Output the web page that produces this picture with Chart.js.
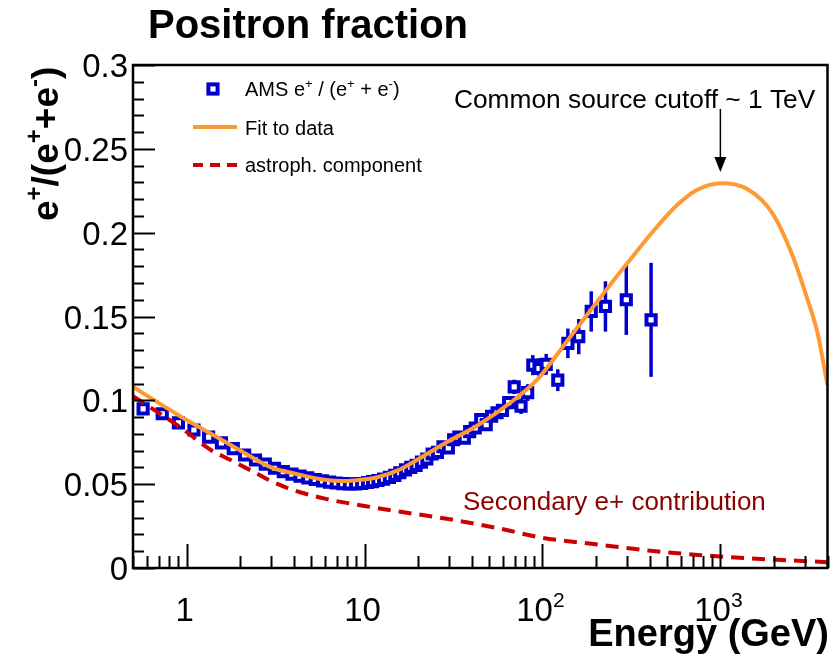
<!DOCTYPE html>
<html>
<head>
<meta charset="utf-8">
<script src="https://cdn.jsdelivr.net/npm/chart.js@4.4.0/dist/chart.umd.min.js"></script>
<style>
  html, body { margin: 0; padding: 0; background: #ffffff; }
  #wrap { width: 838px; height: 658px; }
</style>
</head>
<body>
<div id="wrap"><canvas id="chart" width="838" height="658"></canvas></div>
<script>
// AMS positron fraction points (GeV, e+/(e+ + e-), error)
const energy = [0.57, 0.73, 0.90, 1.10, 1.33, 1.57, 1.83, 2.12, 2.44, 2.77,
    3.12, 3.50, 3.91, 4.34, 4.80, 5.29, 5.81, 6.36, 6.94, 7.56,
    8.22, 8.91, 9.64, 10.4, 11.1, 11.9, 12.8, 13.8, 14.8, 15.8,
    17.0, 18.2, 19.5, 20.9, 22.4, 24.0, 25.7, 27.6, 29.6, 31.7,
    33.9, 36.4, 39.0, 41.9, 45.0, 48.3, 51.8, 55.6, 59.6, 64.6,
    69.4, 75.8, 82.6, 88.3, 95.7, 105, 122, 139, 160, 188,
    226, 296, 408];
const fraction = [0.0949, 0.0920, 0.0865, 0.0823, 0.0780, 0.0746, 0.0712, 0.0674, 0.0644, 0.0620,
    0.0595, 0.0575, 0.0560, 0.0548, 0.0538, 0.0528, 0.0520, 0.0512, 0.0507, 0.0503,
    0.0502, 0.0502, 0.0504, 0.0510, 0.0515, 0.0522, 0.0530, 0.0540, 0.0552, 0.0568,
    0.0585, 0.0600, 0.0612, 0.0632, 0.0650, 0.0680, 0.0690, 0.0723, 0.0717, 0.0765,
    0.0780, 0.0775, 0.0813, 0.0835, 0.0885, 0.0855, 0.0905, 0.0926, 0.0940, 0.0986,
    0.1080, 0.0965, 0.1046, 0.1210, 0.1190, 0.1215, 0.1120, 0.1340, 0.1380, 0.1530,
    0.1560, 0.1600, 0.1480];
const fractionErr = [0.0010, 0.0009, 0.0009, 0.0008, 0.0008, 0.0008, 0.0008, 0.0008, 0.0008, 0.0008,
    0.0008, 0.0008, 0.0008, 0.0008, 0.0008, 0.0008, 0.0008, 0.0008, 0.0008, 0.0008,
    0.0009, 0.0009, 0.0009, 0.0010, 0.0010, 0.0010, 0.0011, 0.0011, 0.0012, 0.0012,
    0.0013, 0.0014, 0.0015, 0.0016, 0.0017, 0.0018, 0.0019, 0.0020, 0.0021, 0.0022,
    0.0024, 0.0025, 0.0026, 0.0028, 0.0030, 0.0031, 0.0033, 0.0035, 0.0037, 0.0040,
    0.0043, 0.0046, 0.0050, 0.0060, 0.0060, 0.0062, 0.0065, 0.0088, 0.0105, 0.0120,
    0.0150, 0.0210, 0.0340];

// fit to data
const fitEnergy = [0.5, 0.916, 1.35, 1.98, 3.03, 3.93, 6.08, 7.67, 9.3, 12.0,
    15.6, 18.4, 28.5, 43.6, 66.8, 94.6, 139, 225, 301, 426,
    573, 738, 1010, 1408, 1950, 2530, 3070, 3500, 4000];
const fitValue = [0.108, 0.0907, 0.0805, 0.0704, 0.0597, 0.0567, 0.0525, 0.0519, 0.0525, 0.0543,
    0.0585, 0.0626, 0.0746, 0.0853, 0.0990, 0.1130, 0.1360, 0.1650, 0.1820, 0.2017,
    0.2166, 0.2255, 0.2295, 0.2262, 0.2120, 0.1870, 0.1610, 0.1410, 0.1090];

// astrophysical (secondary) component
const astroEnergy = [0.5, 0.92, 1.37, 1.77, 2.57, 3.03, 3.93, 6.08, 10, 15.6,
    29.6, 56.6, 100, 206, 392, 748, 1425, 2715, 4000];
const astroValue = [0.1025, 0.0840, 0.0704, 0.0644, 0.0555, 0.0515, 0.0467, 0.0412, 0.0370, 0.0337,
    0.0292, 0.0237, 0.0180, 0.0140, 0.0105, 0.0078, 0.0058, 0.0043, 0.0035];

// axes
const xRange = [0.5, 4000];
const yRange = [0, 0.3];
const xMajorTicks = [1, 10, 100, 1000];
const xTickLabels = ['1', '10', '10^2', '10^3'];
const yMajorTicks = [0, 0.05, 0.1, 0.15, 0.2, 0.25, 0.3];
const yTickLabels = ['0', '0.05', '0.1', '0.15', '0.2', '0.25', '0.3'];

const BLUE = '#0000cc';
const ORANGE = '#ff9933';
const RED = '#cc0000';
const FONT = '"Liberation Sans", Arial, Helvetica, sans-serif';

// draw text with superscripts, parts = [[text, isSup], ...]
function richWidth(ctx, parts, size, weight) {
    let w = 0;
    parts.forEach(([t, sup]) => {
        ctx.font = `${weight} ${sup ? Math.round(size * 0.65) : size}px ${FONT}`;
        w += ctx.measureText(t).width;
    });
    return w;
}

function drawRich(ctx, parts, x, y, size, weight, align) {
    let cx = x;
    const w = richWidth(ctx, parts, size, weight);
    if (align === 'center') cx = x - w / 2;
    if (align === 'right') cx = x - w;
    ctx.textAlign = 'left';
    ctx.textBaseline = 'alphabetic';
    parts.forEach(([t, sup]) => {
        const s = sup ? Math.round(size * 0.65) : size;
        ctx.font = `${weight} ${s}px ${FONT}`;
        ctx.fillText(t, cx, sup ? y - size * 0.42 : y);
        cx += ctx.measureText(t).width;
    });
}

function labelParts(label) {
    if (label.includes('^')) {
        const [b, e] = label.split('^');
        return [[b, false], [e, true]];
    }
    return [[label, false]];
}

// error bars under the markers
const errorBars = {
    id: 'errorBars',
    beforeDatasetsDraw(chart) {
        const { ctx, scales: { x, y } } = chart;
        ctx.save();
        ctx.strokeStyle = BLUE;
        ctx.lineWidth = 3.5;
        energy.forEach((e, i) => {
            const px = x.getPixelForValue(e);
            ctx.beginPath();
            ctx.moveTo(px, y.getPixelForValue(fraction[i] - fractionErr[i]));
            ctx.lineTo(px, y.getPixelForValue(fraction[i] + fractionErr[i]));
            ctx.stroke();
        });
        ctx.restore();
    }
};

// ROOT-style frame with ticks pointing inwards
const frameAxes = {
    id: 'frameAxes',
    afterDatasetsDraw(chart) {
        const { ctx, chartArea: a, scales: { x, y } } = chart;
        ctx.save();
        ctx.strokeStyle = '#000';
        ctx.lineWidth = 2;

        // y ticks
        for (let k = 0; k <= 30; k++) {
            const v = k / 100;
            const py = Math.round(y.getPixelForValue(v)) + 0.5;
            const len = k % 5 === 0 ? 22 : 11;
            ctx.beginPath();
            ctx.moveTo(a.left, py);
            ctx.lineTo(a.left + len, py);
            ctx.stroke();
        }
        // x ticks
        for (let dec = 0.1; dec <= 1000; dec *= 10) {
            for (let m = 1; m <= 9; m++) {
                const v = dec * m;
                if (v < xRange[0] * 0.999 || v > xRange[1] * 1.001) continue;
                const px = Math.round(x.getPixelForValue(v)) + 0.5;
                const len = m === 1 ? 24 : 12;
                ctx.beginPath();
                ctx.moveTo(px, a.bottom);
                ctx.lineTo(px, a.bottom - len);
                ctx.stroke();
            }
        }
        ctx.lineWidth = 2.5;
        ctx.strokeRect(a.left, a.top, a.right - a.left, a.bottom - a.top);

        // tick labels
        ctx.fillStyle = '#000';
        ctx.font = `33px ${FONT}`;
        ctx.textAlign = 'right';
        ctx.textBaseline = 'alphabetic';
        yMajorTicks.forEach((v, i) => {
            ctx.fillText(yTickLabels[i], a.left - 5, y.getPixelForValue(v) + 12);
        });
        xMajorTicks.forEach((v, i) => {
            drawRich(ctx, labelParts(xTickLabels[i]), x.getPixelForValue(v) - 2, a.bottom + 53, 33, 'normal', 'center');
        });
        ctx.restore();
    }
};

// titles, legend and annotations
const annotations = {
    id: 'annotations',
    afterDraw(chart) {
        const { ctx, scales: { x, y } } = chart;
        ctx.save();
        ctx.fillStyle = '#000';

        // title
        ctx.font = `bold 40px ${FONT}`;
        ctx.textAlign = 'left';
        ctx.textBaseline = 'alphabetic';
        ctx.fillText('Positron fraction', 148, 38);

        // x axis title
        ctx.font = `bold 38px ${FONT}`;
        ctx.textAlign = 'right';
        ctx.fillText('Energy (GeV)', 829, 646);

        // y axis title
        ctx.save();
        ctx.translate(58, 221);
        ctx.rotate(-Math.PI / 2);
        drawRich(ctx, [['e', false], ['+', true], ['/(e', false], ['+', true], ['+e', false], ['-', true], [')', false]],
            0, 0, 37, 'bold', 'left');
        ctx.restore();

        // legend
        const mx = 213, my = 89;
        ctx.strokeStyle = BLUE;
        ctx.lineWidth = 4;
        ctx.fillStyle = '#fff';
        ctx.fillRect(mx - 4.6, my - 4.6, 9.2, 9.2);
        ctx.strokeRect(mx - 4.6, my - 4.6, 9.2, 9.2);

        ctx.strokeStyle = ORANGE;
        ctx.lineWidth = 4;
        ctx.beginPath();
        ctx.moveTo(193, 127);
        ctx.lineTo(237, 127);
        ctx.stroke();

        ctx.strokeStyle = RED;
        ctx.setLineDash([10, 7]);
        ctx.beginPath();
        ctx.moveTo(193, 165);
        ctx.lineTo(237, 165);
        ctx.stroke();
        ctx.setLineDash([]);

        ctx.fillStyle = '#000';
        drawRich(ctx, [['AMS e', false], ['+', true], [' / (e', false], ['+', true], [' + e', false], ['-', true], [')', false]],
            245, 96, 20, 'normal', 'left');
        ctx.font = `20px ${FONT}`;
        ctx.textAlign = 'left';
        ctx.fillText('Fit to data', 245, 135);
        ctx.fillText('astroph. component', 245, 172);

        // cutoff annotation with arrow
        ctx.font = `26.3px ${FONT}`;
        ctx.fillText('Common source cutoff ~ 1 TeV', 454, 108);
        const ax = x.getPixelForValue(1000);
        const yTop = y.getPixelForValue(0.2738);
        const yTip = y.getPixelForValue(0.2362);
        ctx.strokeStyle = '#000';
        ctx.lineWidth = 1.5;
        ctx.beginPath();
        ctx.moveTo(ax, yTop);
        ctx.lineTo(ax, yTip - 14);
        ctx.stroke();
        ctx.beginPath();
        ctx.moveTo(ax - 6, yTip - 15);
        ctx.lineTo(ax + 6, yTip - 15);
        ctx.lineTo(ax, yTip);
        ctx.closePath();
        ctx.fill();

        ctx.fillStyle = '#8c0000';
        ctx.font = `26px ${FONT}`;
        ctx.fillText('Secondary e+ contribution', 463, 510);
        ctx.restore();
    }
};

new Chart(document.getElementById('chart'), {
    type: 'scatter',
    data: {
        datasets: [
            {
                label: 'Fit to data',
                data: fitEnergy.map((e, i) => ({ x: e, y: fitValue[i] })),
                showLine: true,
                borderColor: ORANGE,
                borderWidth: 4,
                pointRadius: 0,
                cubicInterpolationMode: 'monotone',
                order: 1
            },
            {
                label: 'astroph. component',
                data: astroEnergy.map((e, i) => ({ x: e, y: astroValue[i] })),
                showLine: true,
                borderColor: RED,
                borderWidth: 4,
                borderDash: [13, 8],
                pointRadius: 0,
                cubicInterpolationMode: 'monotone',
                order: 2
            },
            {
                label: 'AMS e+ / (e+ + e-)',
                data: energy.map((e, i) => ({ x: e, y: fraction[i] })),
                pointStyle: 'rect',
                pointRadius: 6.5,
                pointBorderWidth: 4,
                borderColor: BLUE,
                backgroundColor: '#ffffff',
                order: 3
            }
        ]
    },
    options: {
        responsive: false,
        animation: false,
        devicePixelRatio: 1,
        layout: { padding: { left: 133, right: 7, top: 65, bottom: 90 } },
        plugins: {
            legend: { display: false },
            tooltip: { enabled: false }
        },
        scales: {
            x: { type: 'logarithmic', min: xRange[0], max: xRange[1], display: false },
            y: { type: 'linear', min: yRange[0], max: yRange[1], display: false }
        }
    },
    plugins: [errorBars, frameAxes, annotations]
});
</script>
</body>
</html>
